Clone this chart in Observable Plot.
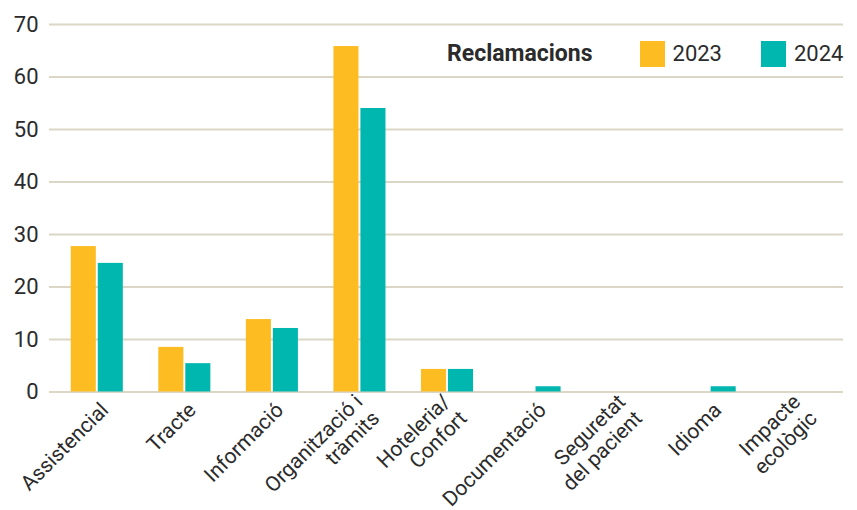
<!DOCTYPE html>
<html>
<head>
<meta charset="utf-8">
<script src="https://cdn.jsdelivr.net/npm/d3@7"></script>
<script src="https://cdn.jsdelivr.net/npm/@observablehq/plot@0.6"></script>
<style>
  html, body { margin: 0; padding: 0; background: #fff; }
  #wrap { position: relative; width: 857px; height: 510px; font-family: Roboto, "DejaVu Sans", sans-serif; color: #2b2b2b; }
  #legend { position: absolute; top: 40px; left: 447px; height: 27px; display: flex; align-items: center; font-size: 22px; }
  #legend .title { font-weight: bold; font-size: 23px; margin-right: 47px; }
  #legend .sw { width: 25px; height: 26px; margin-right: 8px; }
  #legend .lab { margin-right: 39px; }
  #legend .lab:last-child { margin-right: 0; }
</style>
</head>
<body>
<div id="wrap"></div>
<script>
const categories = ["Assistencial", "Tracte", "Informació", "Organització i\ntràmits", "Hoteleria/\nConfort", "Documentació", "Seguretat\ndel pacient", "Idioma", "Impacte\necològic"];
const values2023 = [27.7, 8.5, 13.8, 65.8, 4.3, 0, 0, 0, 0];
const values2024 = [24.5, 5.4, 12.1, 54.0, 4.3, 1.0, 0, 1.0, 0];
const years = ["2023", "2024"];
const colors = ["#FDBD22", "#00B7AF"];
const yTicks = [0, 10, 20, 30, 40, 50, 60, 70];
const legendTitle = "Reclamacions";

const rows = categories.map((c, i) => ({category: c, v2023: values2023[i], v2024: values2024[i]}));

const chart = Plot.plot({
  width: 857,
  height: 510,
  marginTop: 24,
  marginBottom: 118.5,
  marginLeft: 53,
  marginRight: 16,
  style: {fontFamily: "Roboto, sans-serif", fontSize: "22px", color: "#2b2b2b", background: "white"},
  x: {domain: categories, padding: 0, round: false, label: null},
  y: {domain: [0, 70], label: null},
  marks: [
    Plot.ruleY(yTicks, {stroke: "#dcd6c6", strokeWidth: 2, insetLeft: -4, insetRight: -2}),
    Plot.barY(rows, {x: "category", y: "v2023", fill: colors[0], insetLeft: 17.75, insetRight: 44.75}),
    Plot.barY(rows, {x: "category", y: "v2024", fill: colors[1], insetLeft: 44.75, insetRight: 17.75}),
    Plot.axisY({ticks: yTicks, tickSize: 0, tickPadding: 15, fontSize: 22, label: null}),
    Plot.axisX({tickSize: 0, tickRotate: -45, tickPadding: 10, dx: 7, dy: 4, lineHeight: 1.12, fontSize: 21, label: null})
  ]
});

const wrap = document.getElementById("wrap");
wrap.appendChild(chart);

const legend = document.createElement("div");
legend.id = "legend";
const t = document.createElement("span");
t.className = "title";
t.textContent = legendTitle;
legend.appendChild(t);
years.forEach((y, i) => {
  const sw = document.createElement("span");
  sw.className = "sw";
  sw.style.background = colors[i];
  legend.appendChild(sw);
  const lab = document.createElement("span");
  lab.className = "lab";
  lab.textContent = y;
  legend.appendChild(lab);
});
wrap.appendChild(legend);
</script>
</body>
</html>
